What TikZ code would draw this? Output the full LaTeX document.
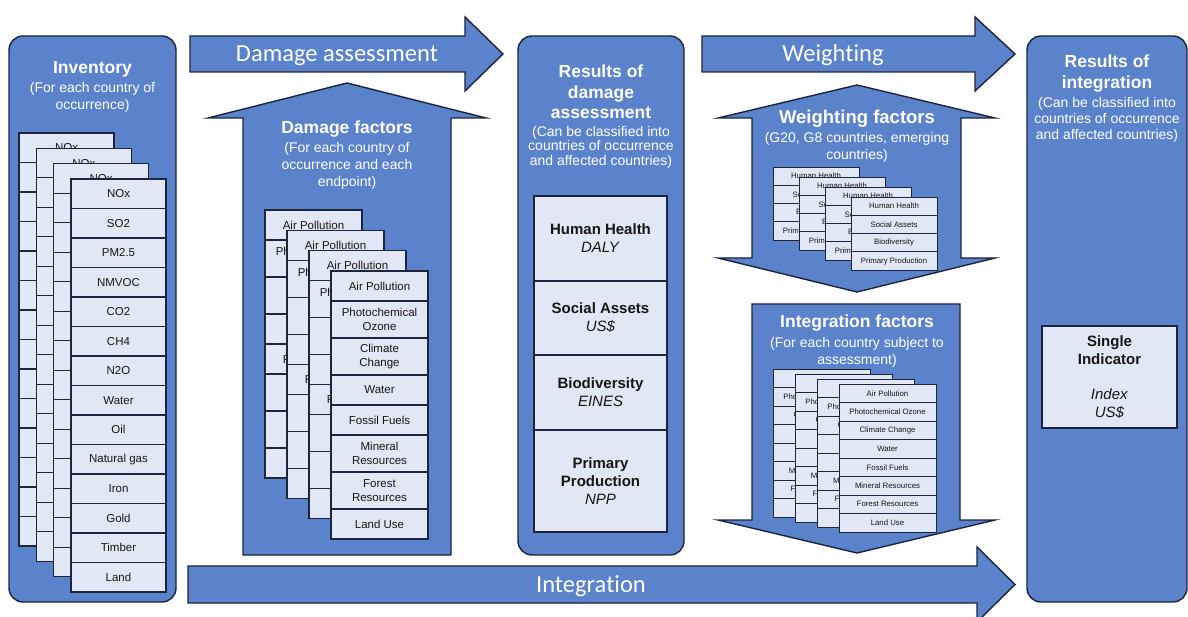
\documentclass[tikz,border=0pt]{standalone}
\usepackage{fontspec}
\setmainfont{Liberation Sans}
\newfontfamily\arrowfont[Ligatures={NoCommon,NoRare,NoContextual}]{Carlito}

\definecolor{panelblue}{RGB}{91,131,204}
\definecolor{sheetfill}{RGB}{226,231,245}
\definecolor{edge}{RGB}{28,36,62}
\definecolor{ink}{RGB}{22,22,22}

\tikzset{
  panel/.style={draw=edge, line width=1.4pt, fill=panelblue, rounded corners=14pt},
  bigarrow/.style={draw=edge, line width=1.4pt, fill=panelblue, line join=miter},
  cell/.style={draw=edge, line width=1.1pt, fill=sheetfill, inner sep=1pt, outer sep=0pt,
    align=center, text=ink, anchor=north west},
  invcell/.style={cell, font=\fontsize{11.5}{13}\selectfont},
  dmgcell/.style={cell, font=\fontsize{11.5}{13.5}\selectfont},
  smallcell/.style={cell, line width=0.9pt, font=\fontsize{7.8}{9}\selectfont},
  rescell/.style={cell, line width=1.1pt, font=\fontsize{15}{18}\selectfont},
  ttl/.style={text=white, font=\fontsize{17.5}{20}\selectfont\bfseries, anchor=base, inner sep=0pt},
  sub/.style={text=white, font=\fontsize{14}{16}\selectfont, anchor=base, inner sep=0pt},
  arrowlbl/.style={text=white, font=\arrowfont\fontsize{24.5}{28}\selectfont, anchor=base, inner sep=0pt}
}

% one sheet of equal rows: name, x, y, width, row height, style, labels
\newcommand\uniformsheet[7]{%
  \foreach \lab [count=\i] in {#7}{%
    \node[#6, minimum width=#4pt, minimum height=#5pt] (#1-\i) at (#2,{#3+(\i-1)*#5}) {\lab};
  }}
% one sheet of rows given as top/bottom/label: name, x, y, width, style, rows
\newcommand\rowsheet[6]{%
  \foreach \ya/\yb/\lab [count=\i] in {#6}{%
    \node[#5, minimum width=#4pt, minimum height={(\yb-\ya)*1pt}] (#1-\i) at (#2,{#3+\ya}) {\lab};
  }}

\begin{document}
\begin{tikzpicture}[x=1pt,y=-1pt]
\useasboundingbox (0,0) rectangle (1188,617);
\fill[white] (0,0) rectangle (1188,617);

% ---------- panels ----------
\draw[panel] (9,36) rectangle (176,602);
\draw[panel] (518,36) rectangle (684,555);
\draw[panel] (1027,36) rectangle (1187,602);

% ---------- process arrows ----------
\draw[bigarrow] (190,36) -- (465,36) -- (465,17) -- (503,54) -- (465,91) -- (465,72) -- (190,72) -- cycle;
\draw[bigarrow] (702,36) -- (975,36) -- (975,17) -- (1015,54) -- (975,91) -- (975,72) -- (702,72) -- cycle;
\draw[bigarrow] (188,566) -- (977,566) -- (977,547) -- (1015,584.5) -- (977,622) -- (977,603) -- (188,603) -- cycle;

\node[arrowlbl] (lblDA) at (337,62) {Damage assessment};
\node[arrowlbl] (lblW) at (833,62) {Weighting};
\node[arrowlbl] (lblI) at (591,592) {Integration};

% ---------- factor arrows ----------
\draw[bigarrow] (243,555) -- (243,118) -- (208,118) -- (347,83) -- (486,118) -- (451,118) -- (451,555) -- cycle;
\draw[bigarrow] (752,118) -- (718,118) -- (857,85) -- (995,118) -- (961,118) -- (961,258)
  -- (995,258) -- (857,292) -- (718,258) -- (752,258) -- cycle;
\draw[bigarrow] (752,304) -- (960,304) -- (960,520) -- (995,520) -- (857,553) -- (718,520) -- (752,520) -- cycle;

% ---------- Inventory ----------
\node[ttl] (invT1) at (92.5,74) {Inventory};
\node[sub] (invT2) at (92.5,93) {(For each country of};
\node[sub] (invT3) at (92.5,110) {occurrence)};
\foreach \k/\sx/\sy in {1/19/133, 2/36.3/148.3, 3/53.6/163.6, 4/71/179}{
  \uniformsheet{inv\k}{\sx}{\sy}{95}{29.5}{invcell}
    {NOx, SO2, PM2.5, NMVOC, CO2, CH4, N2O, Water, Oil, Natural gas, Iron, Gold, Timber, Land}
}

% ---------- Damage factors ----------
\node[ttl] (dfT1) at (347,134) {Damage factors};
\node[sub] (dfT2) at (347,153) {(For each country of};
\node[sub] (dfT3) at (347,170) {occurrence and each};
\node[sub] (dfT4) at (347,187) {endpoint)};
\foreach \k/\sx/\sy in {1/265/210, 2/287/230.3, 3/309/250.6, 4/331/271}{
  \rowsheet{dmg\k}{\sx}{\sy}{97}{dmgcell}
    {0/30/{Air Pollution}, 30/67/{Photochemical\\Ozone}, 67/104/{Climate\\Change},
     104/134/Water, 134/164/{Fossil Fuels}, 164/201/{Mineral\\Resources},
     201/238/{Forest\\Resources}, 238/268/{Land Use}}
}

% ---------- Results of damage assessment ----------
\node[ttl] (rdT1) at (601,78) {Results of};
\node[ttl] (rdT2) at (601,98.5) {damage};
\node[ttl] (rdT3) at (601,119) {assessment};
\node[sub] (rdT4) at (601,137) {(Can be classified into};
\node[sub] (rdT5) at (601,151) {countries of occurrence};
\node[sub] (rdT6) at (601,165.5) {and affected countries)};
\rowsheet{res}{534}{196}{133}{rescell}
  {0/85/{\textbf{Human Health}\\\textit{DALY}},
   85/159/{\textbf{Social Assets}\\\textit{US\$}},
   159/234/{\textbf{Biodiversity}\\\textit{EINES}},
   234/336/{\textbf{Primary}\\\textbf{Production}\\\textit{NPP}}}

% ---------- Weighting factors ----------
\node[ttl, font=\fontsize{18.5}{21}\selectfont\bfseries] (wfT1) at (857,124) {Weighting factors};
\node[sub] (wfT2) at (857,143) {(G20, G8 countries, emerging};
\node[sub] (wfT3) at (857,160) {countries)};
\foreach \k/\sx/\sy in {1/773/167, 2/799/177, 3/825/187, 4/851/197}{
  \uniformsheet{wf\k}{\sx}{\sy}{86}{18.3}{smallcell}
    {Human Health, Social Assets, Biodiversity, Primary Production}
}

% ---------- Integration factors ----------
\node[ttl] (ifT1) at (857,328) {Integration factors};
\node[sub] (ifT2) at (857,348) {(For each country subject to};
\node[sub] (ifT3) at (857,364) {assessment)};
\foreach \k/\sx/\sy in {1/773/369, 2/795/374, 3/817/379, 4/839/384}{
  \uniformsheet{if\k}{\sx}{\sy}{97}{18.5}{smallcell}
    {Air Pollution, Photochemical Ozone, Climate Change, Water, Fossil Fuels,
     Mineral Resources, Forest Resources, Land Use}
}

% ---------- Results of integration ----------
\node[ttl] (riT1) at (1107,68) {Results of};
\node[ttl] (riT2) at (1107,89) {integration};
\node[sub] (riT3) at (1107,108) {(Can be classified into};
\node[sub] (riT4) at (1107,124) {countries of occurrence};
\node[sub] (riT5) at (1107,140) {and affected countries)};
\node[rescell, minimum width=135pt, minimum height=102pt] (single) at (1042,326)
  {\textbf{Single}\\\textbf{Indicator}\\[17pt]\textit{Index}\\\textit{US\$}};

\end{tikzpicture}
\end{document}
